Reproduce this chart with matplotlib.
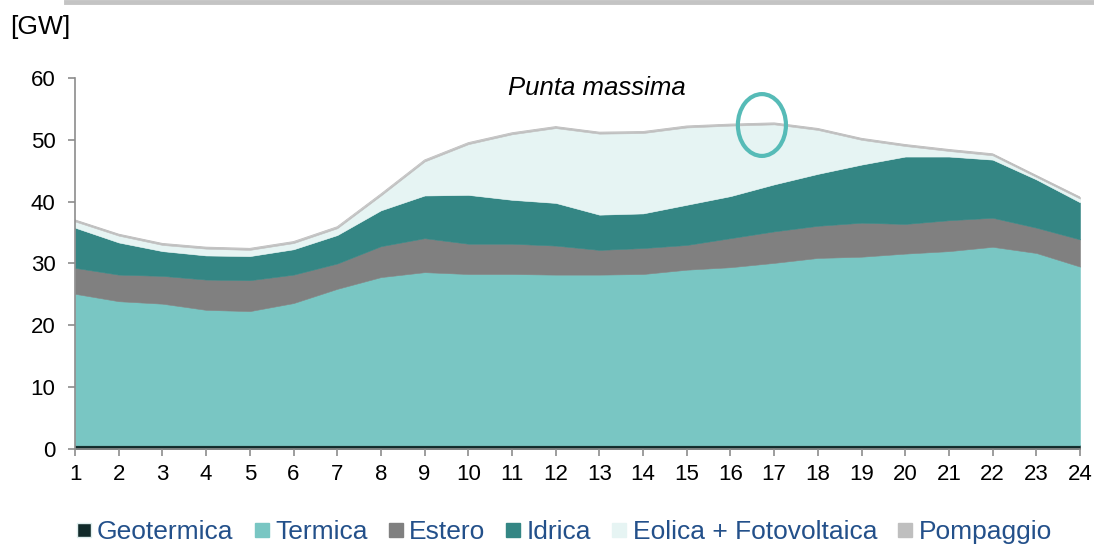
import matplotlib.pyplot as plt
from matplotlib.lines import Line2D
from matplotlib.patches import Ellipse

plt.rcParams["font.family"] = ["Liberation Sans", "DejaVu Sans"]

# ore del giorno
ore = list(range(1, 25))

# valori per fonte [GW]
geotermica = [0.6] * 24
termica = [24.5, 23.3, 22.9, 21.9, 21.7, 23.0, 25.3, 27.2, 28.0, 27.7, 27.7, 27.6,
           27.6, 27.7, 28.4, 28.8, 29.5, 30.3, 30.5, 31.0, 31.4, 32.1, 31.1, 28.9]
estero = [4.2, 4.3, 4.5, 4.9, 5.0, 4.6, 4.1, 5.0, 5.5, 4.9, 4.9, 4.7,
          4.0, 4.2, 4.0, 4.7, 5.1, 5.2, 5.5, 4.8, 5.0, 4.7, 4.1, 4.4]
idrica = [6.5, 5.2, 4.0, 3.9, 3.9, 4.1, 4.6, 5.8, 6.9, 7.9, 7.1, 6.9,
          5.7, 5.6, 6.5, 6.8, 7.6, 8.4, 9.4, 10.9, 10.3, 9.4, 7.8, 6.0]
eolica_fv = [1.0, 1.1, 1.0, 1.1, 1.0, 1.0, 1.1, 2.4, 5.5, 8.2, 10.6, 12.1,
             13.1, 13.0, 12.5, 11.4, 9.7, 7.1, 4.0, 1.7, 0.9, 0.7, 0.4, 0.6]
pompaggio = [0.25] * 24

nomi = ["Geotermica", "Termica", "Estero", "Idrica", "Eolica + Fotovoltaica", "Pompaggio"]
colori = ["#112a2a", "#79c6c3", "#808080", "#348684", "#e6f4f3", "#bfbfbf"]

fig = plt.figure(figsize=(10.94, 5.46), dpi=100)
ax = fig.add_axes([0.0686, 0.1777, 0.9186, 0.6794])

serie = [geotermica, termica, estero, idrica, eolica_fv, pompaggio]
ax.stackplot(ore, *serie, colors=colori, linewidth=0.4,
             edgecolor="face")

# bordo superiore grigio
totale = [sum(v) for v in zip(*serie)]
ax.plot(ore, totale, color="#bdbdbd", lw=0.6)

ax.set_xlim(1, 24)
ax.set_ylim(0, 60)
ax.set_xticks(ore)
ax.set_yticks(range(0, 61, 10))
for s in ["top", "right"]:
    ax.spines[s].set_visible(False)
for s in ["left", "bottom"]:
    ax.spines[s].set_color("#8c8c8c")
    ax.spines[s].set_linewidth(1.2)
ax.tick_params(axis="both", labelsize=16, color="#8c8c8c", length=5, width=1.2)
ax.tick_params(axis="x", pad=6)
ax.tick_params(axis="y", pad=9)

# punta massima
ax.text(12.94, 58.4, "Punta massima", fontsize=18.5, style="italic",
        ha="center", va="center")
ax.add_patch(Ellipse((16.72, 52.4), 1.1, 10.0, fill=False,
                     edgecolor="#56bbb7", lw=3, zorder=5))

fig.text(0.009, 1 - 27 / 546, "[GW]", fontsize=19, va="center", ha="left")

# linea grigia in alto
fig.add_artist(Line2D([0.06, 1.0], [0.996, 0.996], color="#c4c4c4", lw=3.5))

maniglie = [Line2D([], [], marker="s", linestyle="", markersize=9.5,
                   markerfacecolor=c,
                   markeredgecolor=("#dfeeee" if i == 0 else c),
                   markeredgewidth=1)
            for i, c in enumerate(colori)]
leg = fig.legend(maniglie, nomi, loc="center", bbox_to_anchor=(0.516, 0.026),
                 ncol=6, frameon=False, fontsize=19, handlelength=0.5,
                 handletextpad=0.25, columnspacing=0.82, borderaxespad=0)
for t in leg.get_texts():
    t.set_color("#23508a")

fig.savefig("out.png", dpi=100)
